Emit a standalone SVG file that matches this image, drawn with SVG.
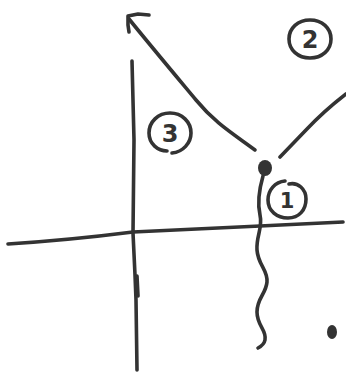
<svg xmlns="http://www.w3.org/2000/svg" width="346" height="373" viewBox="0 0 346 373">
<style>
.s{fill:none;stroke:#333;stroke-width:3.6;stroke-linecap:round;stroke-linejoin:round}
.t{font-family:"DejaVu Sans",sans-serif;font-weight:bold;fill:#333;text-anchor:middle}
</style>
<rect width="346" height="373" fill="#fff"/>
<g id="connectors">
<path class="s" d="M255,150 C232,133 215,123 196,100 C176,76 150,45 129,19"/>
<path class="s" d="M149,15 L138,14 L128,16 L128,25 L129,32"/>
<path class="s" d="M280,157 L306,130 Q324,111 346,94"/>
<path class="s" d="M132,61 L134,140 L133,233 L135,275 L136,300 L137,370"/>
<path class="s" d="M137,276 L138,296"/>
<path class="s" d="M8,244 Q70,240 133,232 L260,226 L343,222"/>
<path class="s" d="M263,176 C259,190 257,202 260,215 C263,228 256,236 257,250 C258,265 268,270 267,282 C266,294 257,298 257,312 C257,326 267,330 265,340 C264,345 260,347 258,348"/>
</g>
<g id="point-origin"><ellipse cx="265" cy="168" rx="7" ry="8" fill="#333"/></g>
<g id="point-corner"><ellipse cx="332" cy="332" rx="5" ry="7" fill="#333"/></g>
<g id="label-1">
<path class="s" d="M285,181 C275,182 268,190 268,200 C268,211 277,218 288,218 C299,218 306,210 306,199 C306,189 298,182 289,184"/>
<text class="t" x="287" y="208" font-size="21">1</text>
</g>
<g id="label-2">
<path class="s" d="M310,20 C298,20 289,28 289,39 C289,50 298,58 310,58 C322,58 331,50 331,39 C331,28 322,20 310,20"/>
<text class="t" x="310" y="48" font-size="24">2</text>
</g>
<g id="label-3">
<path class="s" d="M172,153 C183,152 191,143 191,133 C191,122 182,113 170,113 C158,113 149,122 149,133 C149,144 158,151 167,151"/>
<text class="t" x="170" y="142" font-size="24">3</text>
</g>
</svg>
